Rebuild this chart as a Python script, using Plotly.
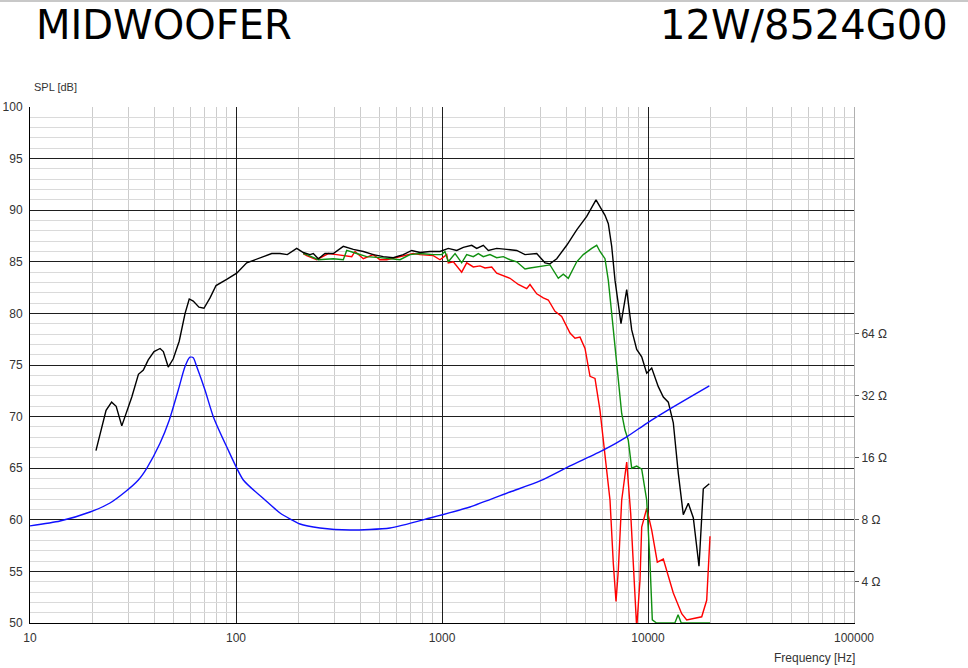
import plotly.graph_objects as go

# ---------------- data ----------------
spl_on_freq = [20.9, 23.4, 24.9, 26.2, 27.9, 31.2, 33.6, 35.5, 37.5, 40.0, 42.8, 44.4, 46.9, 49.6,
               53.0, 56.6, 59.3, 62.0, 66.1, 69.9, 74.8, 80.0, 90.1, 100.8, 112.7, 128.3, 149.1,
               163.6, 177.5, 197.1, 212.2, 228.7, 237.3, 250.9, 270.4, 296.8, 331.8, 371.1, 415.0,
               464.0, 518.8, 580.2, 648.8, 712.8, 782.0, 874.6, 977.9, 1073, 1179, 1269, 1394,
               1474, 1587, 1678, 1843, 2061, 2305, 2529, 2883, 3162, 3344, 3605, 4031, 4508, 5041,
               5593, 6184, 6418, 6665, 6917, 7394, 7882, 8334, 8813, 9320, 9856, 10423, 11220,
               11866, 12547, 13268, 14031, 14838, 15690, 16593, 17685, 18553, 19845]
spl_on_db = [66.7, 70.6, 71.4, 71.0, 69.1, 71.9, 74.1, 74.5, 75.5, 76.3, 76.6, 76.3, 74.8, 75.6,
             77.3, 80.0, 81.4, 81.2, 80.6, 80.5, 81.5, 82.7, 83.3, 83.9, 84.9, 85.3, 85.8,
             85.8, 85.7, 86.3, 85.9, 85.7, 85.8, 85.3, 85.8, 85.8, 86.5, 86.2, 86.0,
             85.7, 85.5, 85.4, 85.7, 86.1, 85.9, 86.0, 86.0, 86.3, 86.1, 86.4, 86.6,
             86.3, 86.6, 86.1, 86.3, 86.2, 86.1, 85.7, 85.8, 84.9, 84.8, 85.3, 86.6, 88.1, 89.4,
             91.0, 89.5, 88.7, 86.5, 83.2, 79.0, 82.3, 78.4, 76.5, 75.8, 74.2, 74.7, 72.9,
             71.9, 71.4, 69.4, 64.5, 60.5, 61.6, 60.2, 55.5, 63.0, 63.5]

spl_30_freq = [212, 220.4, 250.9, 296.8, 331.8, 344.7, 385.5, 431.0, 500, 625.3, 699.4, 782,
               907.4, 996.6, 1034, 1073, 1157, 1246, 1318, 1419, 1501, 1587, 1710, 1843, 1984,
               2138, 2305, 2529, 2674, 2883, 3102, 3344, 3669, 3879, 4103, 4508, 4851, 5131,
               5330, 5636, 5848, 6184, 6418, 6665, 6917, 7175, 7452, 7733, 8024, 8334, 8813,
               9320, 9856, 10226, 10493, 11000, 13500, 14000, 14500, 20000]
spl_30_db = [85.8, 85.7, 85.2, 85.3, 85.2, 86.1, 85.8, 85.5, 85.4, 85.2, 85.7, 85.8,
             85.7, 85.7, 86.0, 85.0, 85.8, 84.9, 85.7, 85.5, 85.8, 85.5, 85.7, 85.4, 85.5,
             85.2, 85.0, 84.3, 84.4, 84.5, 84.6, 84.7, 83.4, 83.8, 83.4, 85.0, 85.7, 86.1,
             86.3, 86.6, 86.0, 85.3, 83.2, 80.0, 76.8, 73.5, 70.3, 68.7, 67.7, 65.0, 65.2,
             64.9, 61.9, 55.8, 50.3, 50.0, 50.0, 50.8, 50.0, 50.0]

spl_60_freq = [212, 220.4, 246.4, 280.6, 308.3, 364.5, 378.3, 415, 464, 500, 539, 625, 725.6,
               782, 907, 978, 1054, 1073, 1135, 1246, 1318, 1419, 1529, 1617, 1743, 1843, 1949,
               2138, 2347, 2577, 2674, 2883, 3102, 3281, 3536, 3811, 4182, 4422, 4677, 4946,
               5230, 5530, 5848, 6184, 6540, 6784, 6994, 7175, 7452, 7882, 8242, 8813, 9146,
               9320, 9856, 10423, 11095, 11866, 13268, 14574, 15413, 18228, 19272, 20000]
spl_60_db = [85.8, 85.6, 85.2, 85.8, 85.7, 85.5, 86.0, 85.3, 85.7, 85.2, 85.2, 85.5, 85.8,
             85.7, 85.6, 85.2, 85.7, 84.9, 85.0, 84.0, 84.9, 84.5, 84.6, 84.4, 84.5, 83.9, 83.7,
             83.4, 82.8, 82.4, 82.8, 81.9, 81.5, 81.3, 80.2, 79.7, 78.1, 77.6, 77.7, 76.6,
             73.9, 73.7, 70.6, 66.4, 61.9, 55.8, 52.1, 55.1, 61.9, 65.6, 60.6, 49.5, 54.2,
             59.3, 61.1, 59.0, 55.9, 56.2, 52.9, 50.9, 50.3, 50.6, 52.2, 58.4]

imp_freq = [10, 13.98, 19.56, 24.45, 28.92, 33.57, 36.87, 42.77, 47.46, 52.47, 56.55, 59.79,
            62.03, 64.44, 70.7, 77.6, 90.1, 108.5, 138.3, 163.6, 204.5, 255.7, 357.6, 559.3,
            874.6, 1367, 2138, 2990, 4182, 6067, 7882, 9856, 12547, 19845]
imp_ohm = [7.46, 7.88, 8.72, 9.64, 10.9, 12.47, 14.21, 18.8, 24.39, 34.1, 44.3, 49.2,
           48.9, 44.3, 34.1, 25.3, 18.09, 12.47, 9.97, 8.62, 7.62, 7.29, 7.13, 7.29,
           8.15, 9.22, 10.9, 12.33, 14.6, 17.4, 20.2, 23.5, 27.3, 35.7]

x_ticks = [10, 100, 1000, 10000, 100000]
x_tick_text = ["10", "100", "1000", "10000", "100000"]
y_ticks = [50, 55, 60, 65, 70, 75, 80, 85, 90, 95, 100]
ohm_ticks = [4, 8, 16, 32, 64]
ohm_tick_text = ["4 Ω", "8 Ω", "16 Ω", "32 Ω", "64 Ω"]

# ---------------- figure ----------------
x_minor = [k * 10 ** d for d in range(1, 5) for k in range(2, 10)]

fig = go.Figure()
fig.add_trace(go.Scatter(x=imp_freq, y=imp_ohm, yaxis="y2", mode="lines",
                         line=dict(color="#1010ff", width=1.4, shape="spline", smoothing=0.6),
                         hoverinfo="skip"))
fig.add_trace(go.Scatter(x=spl_60_freq, y=spl_60_db, mode="lines",
                         line=dict(color="#ff0000", width=1.4), hoverinfo="skip"))
fig.add_trace(go.Scatter(x=spl_30_freq, y=spl_30_db, mode="lines",
                         line=dict(color="#109010", width=1.4), hoverinfo="skip"))
fig.add_trace(go.Scatter(x=spl_on_freq, y=spl_on_db, mode="lines",
                         line=dict(color="#000000", width=1.4), hoverinfo="skip"))

tickfont = dict(family="Liberation Sans, Arial, sans-serif", size=12, color="#333333")

fig.update_layout(
    width=968, height=668,
    margin=dict(l=30, r=114, t=107, b=45, autoexpand=False),
    paper_bgcolor="white", plot_bgcolor="white",
    showlegend=False,
    xaxis=dict(type="log", range=[1, 5], tickvals=x_ticks, ticktext=x_tick_text,
               showgrid=True, gridcolor="#1e1e1e", gridwidth=1, automargin=False,
               minor=dict(tickvals=x_minor, showgrid=True, gridcolor="#cccccc", gridwidth=1),
               showline=True, linecolor="#000000", linewidth=1,
               ticks="", tickfont=tickfont, ticklabelstandoff=4, layer="below traces"),
    yaxis=dict(range=[50, 100], tickvals=y_ticks, showgrid=True, gridcolor="#1e1e1e",
               gridwidth=1, automargin=False,
               minor=dict(dtick=1, showgrid=True, gridcolor="#dadada", gridwidth=1),
               showline=True, linecolor="#000000", linewidth=1, zeroline=False,
               ticks="", tickfont=tickfont, ticklabelstandoff=4),
    yaxis2=dict(type="log", overlaying="y", side="right", range=[0.4014, 2.9068],
                tickvals=ohm_ticks, ticktext=ohm_tick_text, showgrid=False, automargin=False,
                showline=True, linecolor="#b0b0b0", linewidth=1,
                ticks="outside", ticklen=4, tickcolor="#555555", tickfont=tickfont),
)

fig.add_annotation(text="MIDWOOFER", xref="paper", yref="paper", x=0.005, y=1.159,
                   xanchor="left", yanchor="middle", showarrow=False,
                   font=dict(family="DejaVu Sans, sans-serif", size=40, color="#000000"))
fig.add_annotation(text="12W/8524G00", xref="paper", yref="paper", x=1.1165, y=1.159,
                   xanchor="right", yanchor="middle", showarrow=False,
                   font=dict(family="DejaVu Sans, sans-serif", size=40, color="#000000"))
fig.add_annotation(text="SPL [dB]", xref="paper", yref="paper", x=0.002, y=1.0388,
                   xanchor="left", yanchor="middle", showarrow=False,
                   font=dict(family="Liberation Sans, Arial, sans-serif", size=11, color="#333333"))
fig.add_annotation(text="Frequency [Hz]", xref="paper", yref="paper", x=1.0036, y=-0.0678,
                   xanchor="right", yanchor="middle", showarrow=False,
                   font=dict(family="Liberation Sans, Arial, sans-serif", size=12, color="#333333"))
fig.add_shape(type="line", xref="paper", yref="paper", x0=-0.04, x1=1.14, y0=1.2054, y1=1.2054,
              line=dict(color="#c8c8c8", width=2))

fig.write_html("out.html", config={"displayModeBar": False},
               post_script="document.body.style.margin='0';document.body.style.overflow='hidden';")
